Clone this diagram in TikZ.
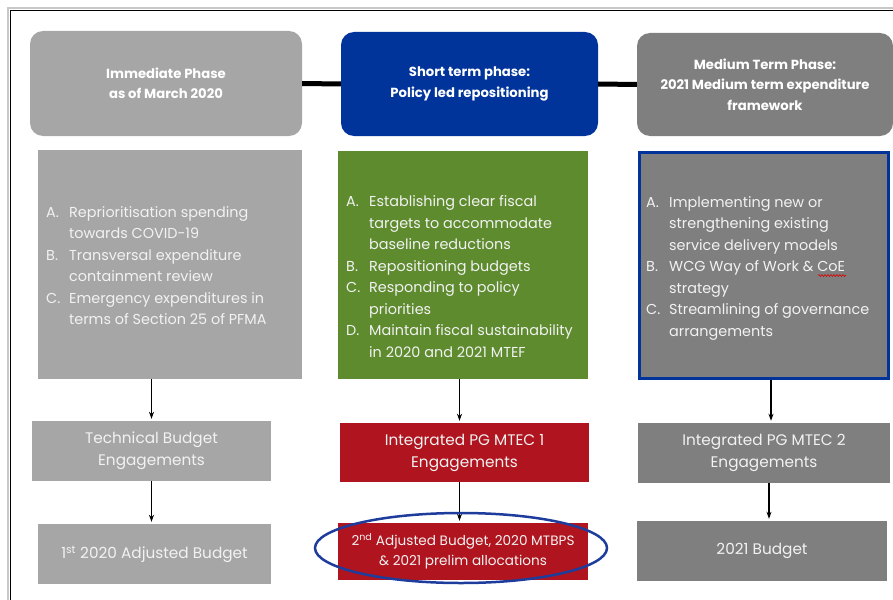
\documentclass[tikz,border=0pt]{standalone}
\usepackage{fontspec}
\setmainfont{Poppins}
\usetikzlibrary{arrows.meta,decorations.pathmorphing}
\definecolor{lgrey}{HTML}{A6A6A6}
\definecolor{dgrey}{HTML}{7F7F7F}
\definecolor{navy}{HTML}{00349A}
\definecolor{leaf}{HTML}{5E8B2E}
\definecolor{crimson}{HTML}{B0141E}
\definecolor{ringblue}{HTML}{1E3C9C}
\definecolor{paletext}{HTML}{F2F2F2}
\definecolor{framegrey}{HTML}{C8C8C8}
\begin{document}
\begin{tikzpicture}[x=1pt,y=-1pt,
  phase/.style={rounded corners=13pt, inner sep=0pt, text=white, align=center,
    font=\fontsize{13.2}{20.5}\selectfont\bfseries},
  listbox/.style={inner sep=0pt, text=paletext, anchor=west,
    font=\fontsize{14.4}{21.5}\selectfont},
  stepbox/.style={inner sep=0pt, text=paletext, align=center,
    font=\fontsize{15.3}{22}\selectfont},
  joint/.style={line width=5pt, black},
  flow/.style={-{Stealth[length=7pt,width=5pt]}, line width=1.1pt, black, shorten >=2pt}
]
\useasboundingbox (0,0) rectangle (893,599);
\begin{scope}
\clip (0,0) rectangle (893,599);
% page frame
\draw[framegrey, line width=2.5pt] (8,8) rectangle (920,620);
\draw[black, line width=1.5pt] (10.5,10.5) rectangle (920,620);

% phase headers
\node[phase, fill=lgrey, minimum width=272pt, minimum height=105pt] (h1) at (166,83.5)
  {Immediate Phase\\as of March 2020};
\node[phase, fill=navy, minimum width=257pt, minimum height=104pt] (h2) at (469.5,84)
  {Short term phase:\\Policy led repositioning};
\node[phase, fill=dgrey, minimum width=256pt, minimum height=103pt] (h3) at (765,84.5)
  {Medium Term Phase:\\2021 Medium term expenditure\\framework};
\draw[joint] (h1.east) -- (h2.west);
\draw[joint] (h2.east) -- (h3.west);

% phase contents
\node[fill=lgrey, minimum width=264pt, minimum height=229pt, inner sep=0pt] (b1) at (170,264.5) {};
\node[listbox] at (46,266.5) {%
  \begin{tabular}{@{}p{23pt}@{}l@{}}
  A. & Reprioritisation spending\\
     & towards COVID-19\\
  B. & Transversal expenditure\\
     & containment review\\
  C. & Emergency expenditures in\\
     & terms of Section 25 of PFMA
  \end{tabular}};

\node[fill=leaf, minimum width=250pt, minimum height=228pt, inner sep=0pt] (b2) at (463,265) {};
\node[listbox] at (346,277.5) {%
  \begin{tabular}{@{}p{23pt}@{}l@{}}
  A. & Establishing clear fiscal\\
     & targets to accommodate\\
     & baseline reductions\\
  B. & Repositioning budgets\\
  C. & Responding to policy\\
     & priorities\\
  D. & Maintain fiscal sustainability\\
     & in 2020 and 2021 MTEF
  \end{tabular}};

\node[fill=dgrey, draw=navy, line width=3pt, minimum width=249pt, minimum height=226pt, inner sep=0pt] (b3) at (764,265.5) {};
\node[listbox] (l3) at (646,267.5) {%
  \begin{tabular}{@{}p{23pt}@{}l@{}}
  A. & Implementing new or\\
     & strengthening existing\\
     & service delivery models\\
  B. & WCG Way of Work \& CoE\\
     & strategy\\
  C. & Streamlining of governance\\
     & arrangements
  \end{tabular}};
% spell-check squiggle under "CoE"
\draw[red!85!black, line width=0.6pt, decorate,
  decoration={snake, amplitude=0.9pt, segment length=3pt}] (818,275.5) -- (846,275.5);

% engagement steps
\node[stepbox, fill=lgrey, minimum width=239pt, minimum height=60pt] (e1) at (151.5,451)
  {Technical Budget\\Engagements};
\node[stepbox, fill=crimson, minimum width=249pt, minimum height=59pt] (e2) at (464.5,452.5)
  {Integrated PG MTEC 1\\Engagements};
\node[stepbox, fill=dgrey, minimum width=252pt, minimum height=60pt] (e3) at (764,453)
  {Integrated PG MTEC 2\\Engagements};

% resulting budgets
\node[stepbox, fill=lgrey, minimum width=233pt, minimum height=60pt] (f1) at (154.5,554)
  {1\textsuperscript{st} 2020 Adjusted Budget};
\node[stepbox, fill=crimson, minimum width=250pt, minimum height=57pt,
  font=\fontsize{13.6}{20}\selectfont] (f2) at (463,551.5)
  {2\textsuperscript{nd} Adjusted Budget, 2020 MTBPS\\\& 2021 prelim allocations};
\node[stepbox, fill=dgrey, minimum width=250pt, minimum height=60pt] (f3) at (762,551)
  {2021 Budget};

% flow arrows
\draw[flow] (b1.south -| e1.north) -- (e1.north);
\draw[flow] (e1.south) -- (e1.south |- f1.north);
\draw[flow] ([xshift=-5pt]b2.south -| e2.north) -- ([xshift=-5pt]e2.north);
\draw[flow] ([xshift=-5pt]e2.south) -- ([xshift=-5pt]e2.south |- f2.north);
\draw[flow] ([xshift=7pt]b3.south -| e3.north) -- ([xshift=7pt]e3.north);
\draw[flow] ([xshift=5pt]e3.south) -- ([xshift=5pt]e3.south |- f3.north);

% highlight ring
\draw[ringblue, line width=2.5pt] (f2.center) ++(-2,-3.5) ellipse [x radius=146pt, y radius=35pt];
\end{scope}
\end{tikzpicture}
\end{document}
